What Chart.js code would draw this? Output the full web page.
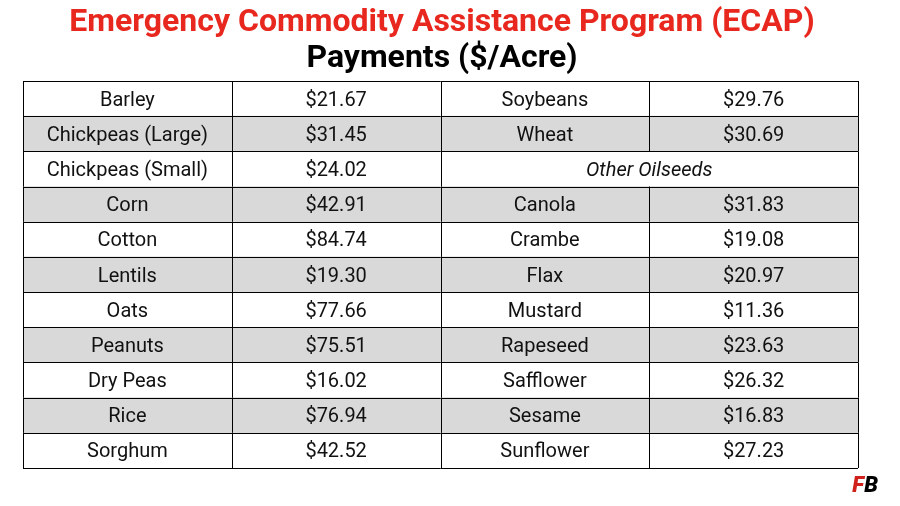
<!DOCTYPE html>
<html><head><meta charset="utf-8">
<script src="https://cdn.jsdelivr.net/npm/chart.js@4"></script>
<style>html,body{margin:0;padding:0;background:#fff}#c{display:block}</style>
</head><body>
<div style="width:900px;height:506px"><canvas id="c"></canvas></div>
<script>
const leftCrops = ["Barley","Chickpeas (Large)","Chickpeas (Small)","Corn","Cotton","Lentils","Oats","Peanuts","Dry Peas","Rice","Sorghum"];
const leftPay = ["$21.67","$31.45","$24.02","$42.91","$84.74","$19.30","$77.66","$75.51","$16.02","$76.94","$42.52"];
const rightCrops = ["Soybeans","Wheat","Other Oilseeds","Canola","Crambe","Flax","Mustard","Rapeseed","Safflower","Sesame","Sunflower"];
const rightPay = ["$29.76","$30.69","","$31.83","$19.08","$20.97","$11.36","$23.63","$26.32","$16.83","$27.23"];
const rows = leftCrops.map((_, i) => "r" + i);
const shade = rows.map((_, i) => i % 2 === 1 ? [0, 4] : null);

const tablePlugin = {
  id: 'table',
  afterDatasetsDraw(chart) {
    const {ctx, scales: {x, y}, chartArea: a} = chart;
    const bandH = (a.bottom - a.top) / rows.length;
    ctx.save();
    ctx.strokeStyle = '#000'; ctx.lineWidth = 1;
    for (let i = 0; i <= rows.length; i++) {
      const yy = Math.round(a.top + i * bandH) + 0.5;
      ctx.beginPath(); ctx.moveTo(a.left, yy); ctx.lineTo(a.right, yy); ctx.stroke();
    }
    for (let c = 0; c <= 4; c++) {
      const xx = Math.round(x.getPixelForValue(c)) + 0.5;
      rows.forEach((_, i) => {
        if (i === 2 && c === 3) return;
        const y0 = a.top + i * bandH, y1 = y0 + bandH;
        ctx.beginPath(); ctx.moveTo(xx, y0); ctx.lineTo(xx, y1); ctx.stroke();
      });
    }
    ctx.fillStyle = '#111'; ctx.textAlign = 'center'; ctx.textBaseline = 'middle';
    rows.forEach((r, i) => {
      const yy = y.getPixelForValue(i) + 2;
      ctx.font = '20px Roboto';
      ctx.fillText(leftCrops[i], x.getPixelForValue(0.5), yy);
      ctx.fillText(leftPay[i], x.getPixelForValue(1.5), yy);
      if (i === 2) {
        ctx.font = 'italic 20px Roboto';
        ctx.fillText(rightCrops[i], x.getPixelForValue(3), yy);
      } else {
        ctx.fillText(rightCrops[i], x.getPixelForValue(2.5), yy);
        ctx.fillText(rightPay[i], x.getPixelForValue(3.5), yy);
      }
    });
    ctx.font = 'bold 32px Roboto'; ctx.fillStyle = '#e8281e';
    ctx.fillText('Emergency Commodity Assistance Program (ECAP)', 442, 23);
    ctx.fillStyle = '#000';
    ctx.fillText('Payments ($/Acre)', 442, 59);
    ctx.font = 'italic 900 22px Roboto'; ctx.textAlign = 'right';
    ctx.fillStyle = '#d0211c'; ctx.fillText('F', 864, 486);
    ctx.fillStyle = '#000'; ctx.fillText('B', 878, 486);
    ctx.restore();
  }
};

new Chart(document.getElementById('c'), {
  type: 'bar',
  data: { labels: rows, datasets: [{ data: shade, backgroundColor: '#d9d9d9', barPercentage: 1, categoryPercentage: 1, borderWidth: 0 }] },
  options: {
    indexAxis: 'y', responsive: true, maintainAspectRatio: false, animation: false,
    layout: { padding: { left: 23, right: 42, top: 81, bottom: 38 } },
    plugins: { legend: { display: false }, tooltip: { enabled: false } },
    scales: {
      x: { type: 'linear', min: 0, max: 4, display: false },
      y: { type: 'category', display: false, offset: true }
    }
  },
  plugins: [tablePlugin]
});
</script>
</body></html>
